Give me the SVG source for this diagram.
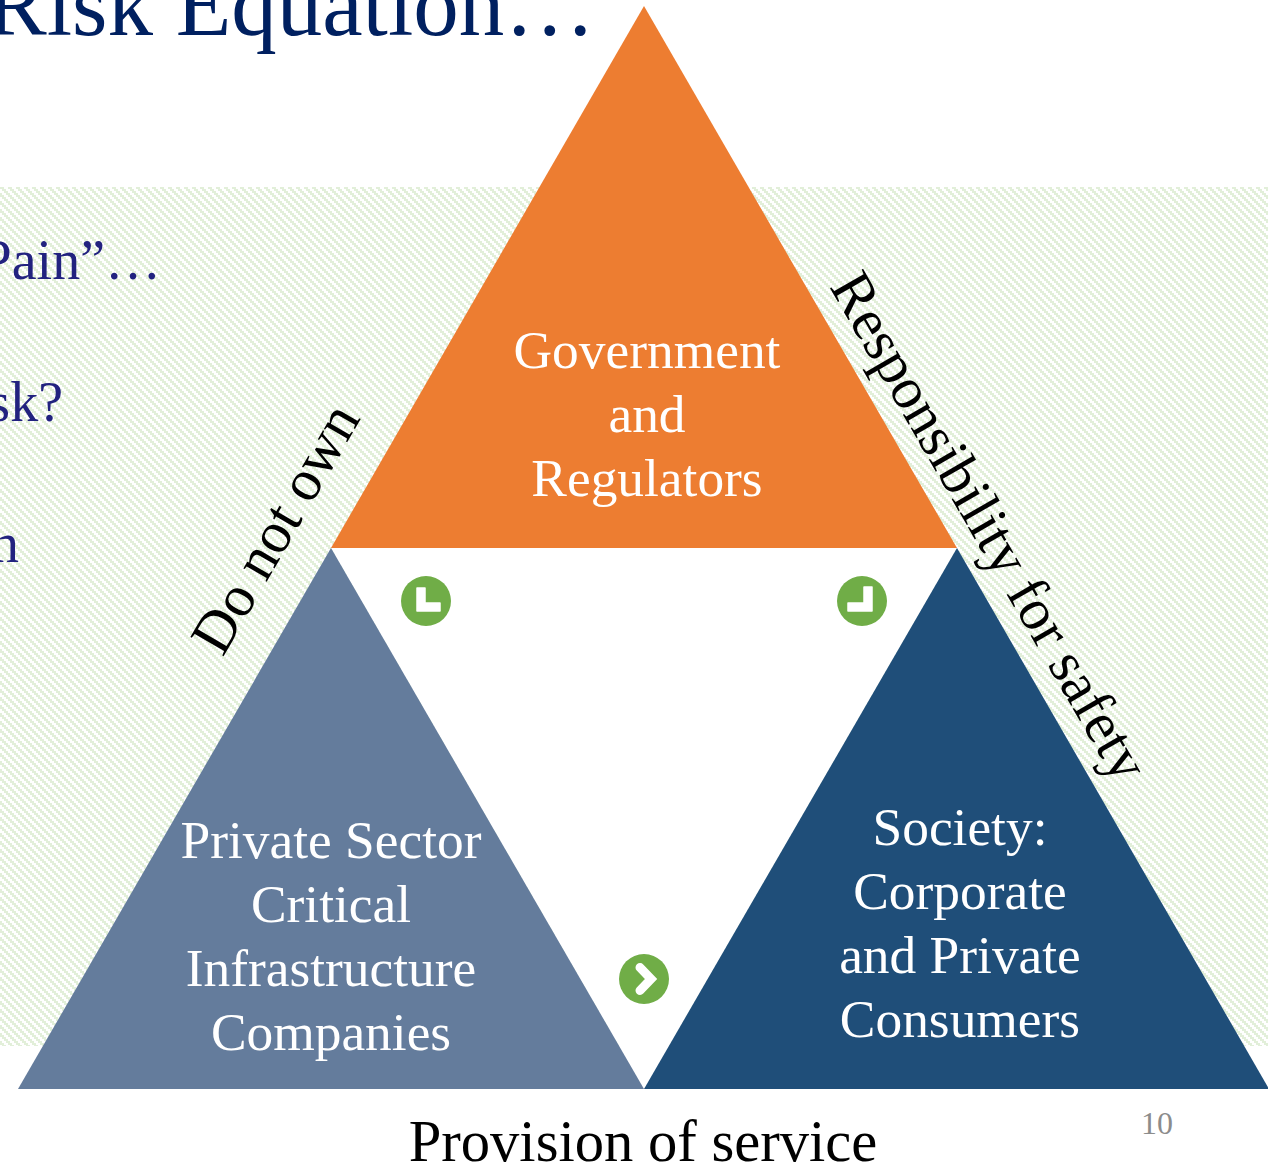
<svg xmlns="http://www.w3.org/2000/svg" width="1268" height="1163" viewBox="0 0 1268 1163">
<style>
text{font-family:"Liberation Serif","Times New Roman",serif}
.n{font-size:53.4px;fill:#fff;text-anchor:middle}
.l{font-size:58.6px;fill:#000;text-anchor:middle}
.b{font-size:56px;fill:#22227f;text-anchor:end}
.c{fill:#70ad47}
.m{fill:#fff;stroke:#fff;stroke-width:1.5;stroke-linejoin:round}
.v{fill:none;stroke:#fff;stroke-width:9;stroke-linejoin:miter;stroke-linecap:round}
</style>
<defs>
<pattern id="hatch" width="8" height="8" patternUnits="userSpaceOnUse" y="187">
<path shape-rendering="crispEdges" fill="#e2efd9" d="M0 0h4v2h-4zM2 2h4v2h-4zM4 4h4v2h-4zM6 6h2v2h-2zM0 6h2v2h-2z"/>
</pattern>
</defs>
<rect x="0" y="0" width="1268" height="1163" fill="#fff"/>
<rect id="band" x="0" y="187" width="1268" height="859" fill="url(#hatch)"/>
<polygon id="centre" points="331,548 957,548 644,1089" fill="#fff"/>
<text x="-14" y="35" font-size="91" fill="#002060">Risk Equation…</text>
<text class="b" x="161" y="279">“Pain”…</text>
<text class="b" x="63" y="421">Risk?</text>
<text class="b" x="19" y="562">n</text>
<g id="gov">
<polygon points="644,6 957,548 331,548" fill="#ed7d31"/>
<text class="n" x="647" y="368">Government</text>
<text class="n" x="647" y="432">and</text>
<text class="n" x="647" y="496">Regulators</text>
</g>
<g id="private">
<polygon points="331,548 644,1089 18,1089" fill="#647c9c"/>
<text class="n" x="331" y="858">Private Sector</text>
<text class="n" x="331" y="922">Critical</text>
<text class="n" x="331" y="986">Infrastructure</text>
<text class="n" x="331" y="1050">Companies</text>
</g>
<g id="society">
<polygon points="957,548 1269,1089 644,1089" fill="#1f4e79"/>
<text class="n" x="960" y="845">Society:</text>
<text class="n" x="960" y="909">Corporate</text>
<text class="n" x="960" y="973">and Private</text>
<text class="n" x="960" y="1037">Consumers</text>
</g>
<g id="connectors">
<circle class="c" cx="426" cy="601" r="25"/>
<path class="m" d="M417 588H425V603H440V611H417Z"/>
<circle class="c" cx="862" cy="601" r="25"/>
<path class="m" d="M864 587H872V611H848V603H864Z"/>
<circle class="c" cx="644" cy="979" r="25"/>
<path class="v" d="M640 967.5L651 979L640 990.5"/>
</g>
<text class="l" transform="translate(292 538) rotate(-60)">Do not own</text>
<text class="l" transform="translate(973 536) rotate(60)">Responsibility for safety</text>
<text class="l" x="643" y="1161">Provision of service</text>
<text x="1157" y="1134" font-size="32" fill="#8c8c8c" text-anchor="middle">10</text>
</svg>
